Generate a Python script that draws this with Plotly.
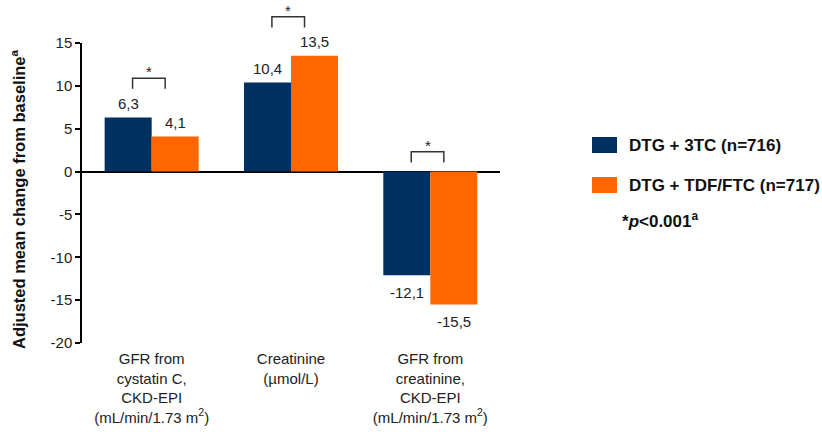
import plotly.graph_objects as go

# ---- data ----
categories = [
    "GFR from<br>cystatin C,<br>CKD-EPI<br>(mL/min/1.73 m<sup>2</sup>)",
    "Creatinine<br>(µmol/L)",
    "GFR from<br>creatinine,<br>CKD-EPI<br>(mL/min/1.73 m<sup>2</sup>)",
]
series_names = ["DTG + 3TC (n=716)", "DTG + TDF/FTC (n=717)"]
dtg_3tc = [6.3, 10.4, -12.1]
dtg_tdf_ftc = [4.1, 13.5, -15.5]
label_3tc = ["6,3", "10,4", "-12,1"]
label_tdf = ["4,1", "13,5", "-15,5"]
bracket_top = [10.9, 18.05, 2.3]      # height of significance brackets (data units)
y_ticks = [15, 10, 5, 0, -5, -10, -15, -20]
y_ticktext = ["15", "10", "5", "0", "-5", "-10", "-15", "-20"]
y_range = [-20, 15]

NAVY = "#00305F"
ORANGE = "#FF6600"
FONT = "Liberation Sans, Arial, sans-serif"
TXT = "#222222"

# layout geometry
W, H = 822, 432
L, R, T, B = 82, 322, 43, 89
BARGAP = 0.325
PW, PH = W - L - R, H - T - B

def px_x(px):
    return (px - L) / PW

def px_y(py):
    return (H - B - py) / PH

def val_to_paper(v):
    return (v - y_range[0]) / (y_range[1] - y_range[0])

fig = go.Figure()
fig.add_bar(x=categories, y=dtg_3tc, name=series_names[0], marker_color=NAVY,
            marker_line_width=0, showlegend=False)
fig.add_bar(x=categories, y=dtg_tdf_ftc, name=series_names[1], marker_color=ORANGE,
            marker_line_width=0, showlegend=False)

annotations = []
shapes = []
off = (1 - BARGAP) / 4  # centre offset of each bar within group

for i, cat in enumerate(categories):
    for v, lab, sgn in ((dtg_3tc[i], label_3tc[i], -1), (dtg_tdf_ftc[i], label_tdf[i], 1)):
        annotations.append(dict(
            x=i + sgn * off, y=v, xref="x", yref="y", text=lab, showarrow=False,
            xanchor="center", yanchor="middle", yshift=14 if v >= 0 else -17.5,
            font=dict(family=FONT, size=15, color=TXT)))
    # significance bracket
    c = i - 0.02
    hw = 0.117
    top = val_to_paper(bracket_top[i])
    bot = val_to_paper(bracket_top[i] - 1.25)
    shapes.append(dict(type="path", xref="x", yref="paper",
                       path=f"M {c-hw} {bot} L {c-hw} {top} L {c+hw} {top} L {c+hw} {bot}",
                       line=dict(color="#333333", width=1.5)))
    annotations.append(dict(x=c, y=top, xref="x", yref="paper", text="*", showarrow=False,
                            xanchor="center", yanchor="bottom", yshift=-4,
                            font=dict(family=FONT, size=15, color=TXT)))

# y-axis title
annotations.append(dict(x=0, y=0.48, xref="paper", yref="paper", xshift=-64,
                        text="<b>Adjusted mean change from baseline<sup>a</sup></b>",
                        textangle=-90, showarrow=False, xanchor="center", yanchor="middle",
                        font=dict(family=FONT, size=16.5, color="#111111")))

# custom legend
for (y0, y1), col, name in (((137, 153), NAVY, series_names[0]), ((177, 193), ORANGE, series_names[1])):
    shapes.append(dict(type="rect", xref="paper", yref="paper",
                       x0=px_x(592), x1=px_x(617), y0=px_y(y1), y1=px_y(y0),
                       fillcolor=col, line_width=0))
    annotations.append(dict(x=px_x(627), y=px_y((y0 + y1) / 2), xref="paper", yref="paper",
                            text=f"<b>{name}</b>", showarrow=False, xanchor="left", yanchor="middle",
                            font=dict(family=FONT, size=17, color="#111111")))
annotations.append(dict(x=px_x(620), y=px_y(220), xref="paper", yref="paper",
                        text="<b>*<i>p</i><0.001<sup>a</sup></b>", showarrow=False,
                        xanchor="left", yanchor="middle",
                        font=dict(family=FONT, size=17, color="#111111")))

fig.update_layout(
    width=W, height=H,
    margin=dict(l=L, r=R, t=T, b=B, pad=0, autoexpand=False),
    paper_bgcolor="white", plot_bgcolor="white",
    barmode="group", bargap=BARGAP, bargroupgap=0,
    annotations=annotations, shapes=shapes,
    xaxis=dict(showgrid=False, showline=False, ticks="", zeroline=False,
               automargin=False, ticklabelstandoff=5,
               tickfont=dict(family=FONT, size=15, color=TXT)),
    yaxis=dict(range=y_range, tickvals=y_ticks, ticktext=y_ticktext, showgrid=False,
               automargin=False,
               showline=True, linecolor="black", linewidth=1.5, ticks="outside", ticklen=5,
               tickcolor="black", tickwidth=1.5, zeroline=True, zerolinecolor="black",
               zerolinewidth=1.5, tickfont=dict(family=FONT, size=15, color=TXT)),
)

fig.write_html("out.html")
